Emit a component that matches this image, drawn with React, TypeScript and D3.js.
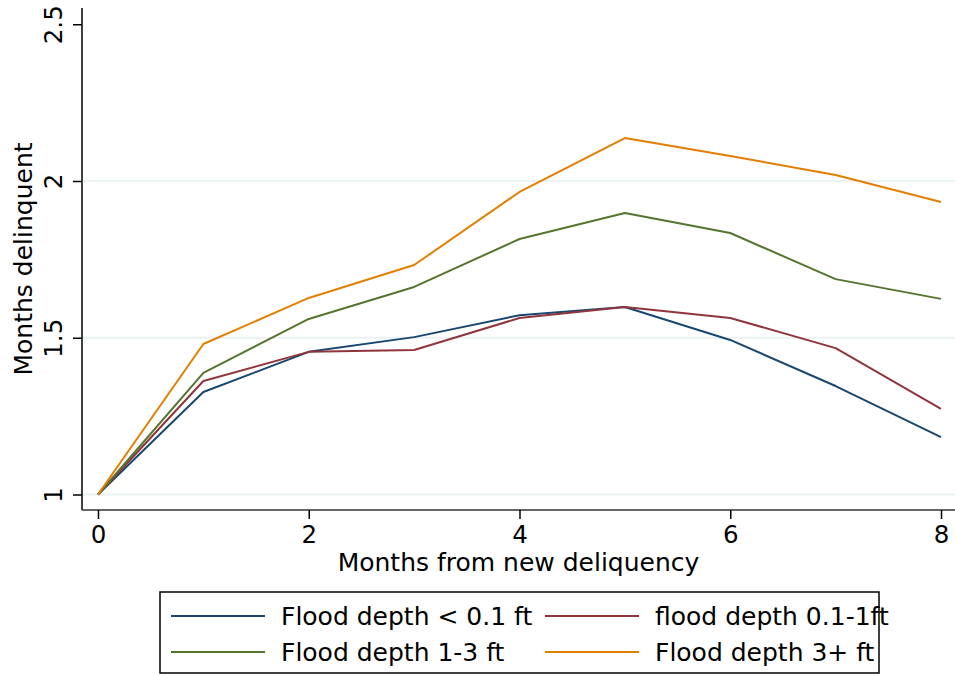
import React, { useEffect, useRef } from 'react';
import * as d3 from 'd3';

// months since new delinquency (x axis)
const months = [0, 1, 2, 3, 4, 5, 6, 7, 8];

// average months delinquent, per flood depth group
const shallow = [1, 1.327, 1.455, 1.502, 1.572, 1.598, 1.493, 1.346, 1.183];
const low = [1, 1.362, 1.455, 1.461, 1.563, 1.598, 1.563, 1.467, 1.273];
const mid = [1, 1.388, 1.560, 1.662, 1.815, 1.898, 1.834, 1.687, 1.624];
const deep = [1, 1.480, 1.627, 1.732, 1.965, 2.137, 2.080, 2.019, 1.933];

const seriesNames = ['Flood depth < 0.1 ft', 'flood depth 0.1-1ft', 'Flood depth 1-3 ft', 'Flood depth 3+ ft'];
const xTicks = [0, 2, 4, 6, 8];
const yTicks = [1, 1.5, 2, 2.5];

const App = () => {
  const ref = useRef<SVGSVGElement>(null);

  useEffect(() => {
    const width = 955;
    const height = 675;
    const margin = { top: 8, right: 0, bottom: 165, left: 82 };
    const font = '"DejaVu Sans", sans-serif';

    const svg = d3.select(ref.current);
    svg.selectAll('*').remove();

    const series = [shallow, low, mid, deep];
    const colors = ['#1a476f', '#90353b', '#55752f', '#e37e00'];

    const x = d3.scaleLinear().domain([0, 8]).range([98, 941]);
    const y = d3.scaleLinear().domain([1, 2]).range([494.5, 181]);

    const bottom = height - margin.bottom;

    svg.append('rect').attr('width', width).attr('height', height).attr('fill', '#fff');

    // gridlines (not at the top tick)
    svg.append('g')
      .selectAll('line')
      .data(yTicks.filter(t => t < 2.5))
      .join('line')
      .attr('x1', margin.left)
      .attr('x2', width)
      .attr('y1', d => y(d))
      .attr('y2', d => y(d))
      .attr('stroke', '#eaf2f3')
      .attr('stroke-width', 2);

    // y axis
    const yAxis = svg.append('g')
      .attr('transform', `translate(${margin.left},0)`)
      .call(d3.axisLeft(y).tickValues(yTicks).tickSize(9).tickSizeOuter(0).tickFormat(d3.format('')));
    yAxis.select('.domain').attr('d', `M0,${margin.top}V${bottom}`).attr('stroke', '#000').attr('stroke-width', 1.5);
    yAxis.selectAll('.tick line').attr('stroke', '#000').attr('stroke-width', 1.5);
    yAxis.selectAll('.tick text')
      .attr('x', 0)
      .attr('y', 0)
      .attr('dy', 0)
      .attr('transform', 'translate(-20,0) rotate(-90)')
      .attr('text-anchor', 'middle')
      .attr('fill', '#000')
      .style('font-family', font)
      .style('font-size', '24.5px');

    // x axis
    const xAxis = svg.append('g')
      .attr('transform', `translate(0,${bottom})`)
      .call(d3.axisBottom(x).tickValues(xTicks).tickSize(9).tickSizeOuter(0));
    xAxis.select('.domain').attr('d', `M${margin.left},0H${width}`).attr('stroke', '#333').attr('stroke-width', 1.5);
    xAxis.selectAll('.tick line').attr('stroke', '#000').attr('stroke-width', 1.5);
    xAxis.selectAll('.tick text')
      .attr('y', 16)
      .attr('dy', '0.71em')
      .attr('fill', '#000')
      .style('font-family', font)
      .style('font-size', '24.5px');

    // axis titles
    svg.append('text')
      .attr('transform', `translate(32,${(margin.top + bottom) / 2}) rotate(-90)`)
      .attr('text-anchor', 'middle')
      .style('font-family', font)
      .style('font-size', '25px')
      .text('Months delinquent');

    svg.append('text')
      .attr('x', (margin.left + width) / 2)
      .attr('y', 571)
      .attr('text-anchor', 'middle')
      .style('font-family', font)
      .style('font-size', '25px')
      .text('Months from new deliquency');

    // lines
    const line = d3.line<number>()
      .x((d, i) => x(months[i]))
      .y(d => y(d));

    series.forEach((s, i) => {
      svg.append('path')
        .datum(s)
        .attr('fill', 'none')
        .attr('stroke', colors[i])
        .attr('stroke-width', 2)
        .attr('stroke-linejoin', 'round')
        .attr('d', line);
    });

    // legend
    const lg = svg.append('g');
    lg.append('rect')
      .attr('x', 160)
      .attr('y', 592)
      .attr('width', 719)
      .attr('height', 81)
      .attr('fill', '#fff')
      .attr('stroke', '#000')
      .attr('stroke-width', 1.5);

    const cols = [171, 545];
    const rows = [616, 652];
    seriesNames.forEach((name, i) => {
      const cx = cols[i % 2];
      const cy = rows[Math.floor(i / 2)];
      lg.append('line')
        .attr('x1', cx)
        .attr('x2', cx + 94)
        .attr('y1', cy)
        .attr('y2', cy)
        .attr('stroke', colors[i])
        .attr('stroke-width', 2);
      lg.append('text')
        .attr('x', cx + 110)
        .attr('y', cy)
        .attr('dy', '0.35em')
        .style('font-family', font)
        .style('font-size', '25px')
        .text(name);
    });
  }, []);

  return (
    <svg ref={ref} width={955} height={675} style={{ position: 'absolute', left: 0, top: 0 }} />
  );
};

export default App;
